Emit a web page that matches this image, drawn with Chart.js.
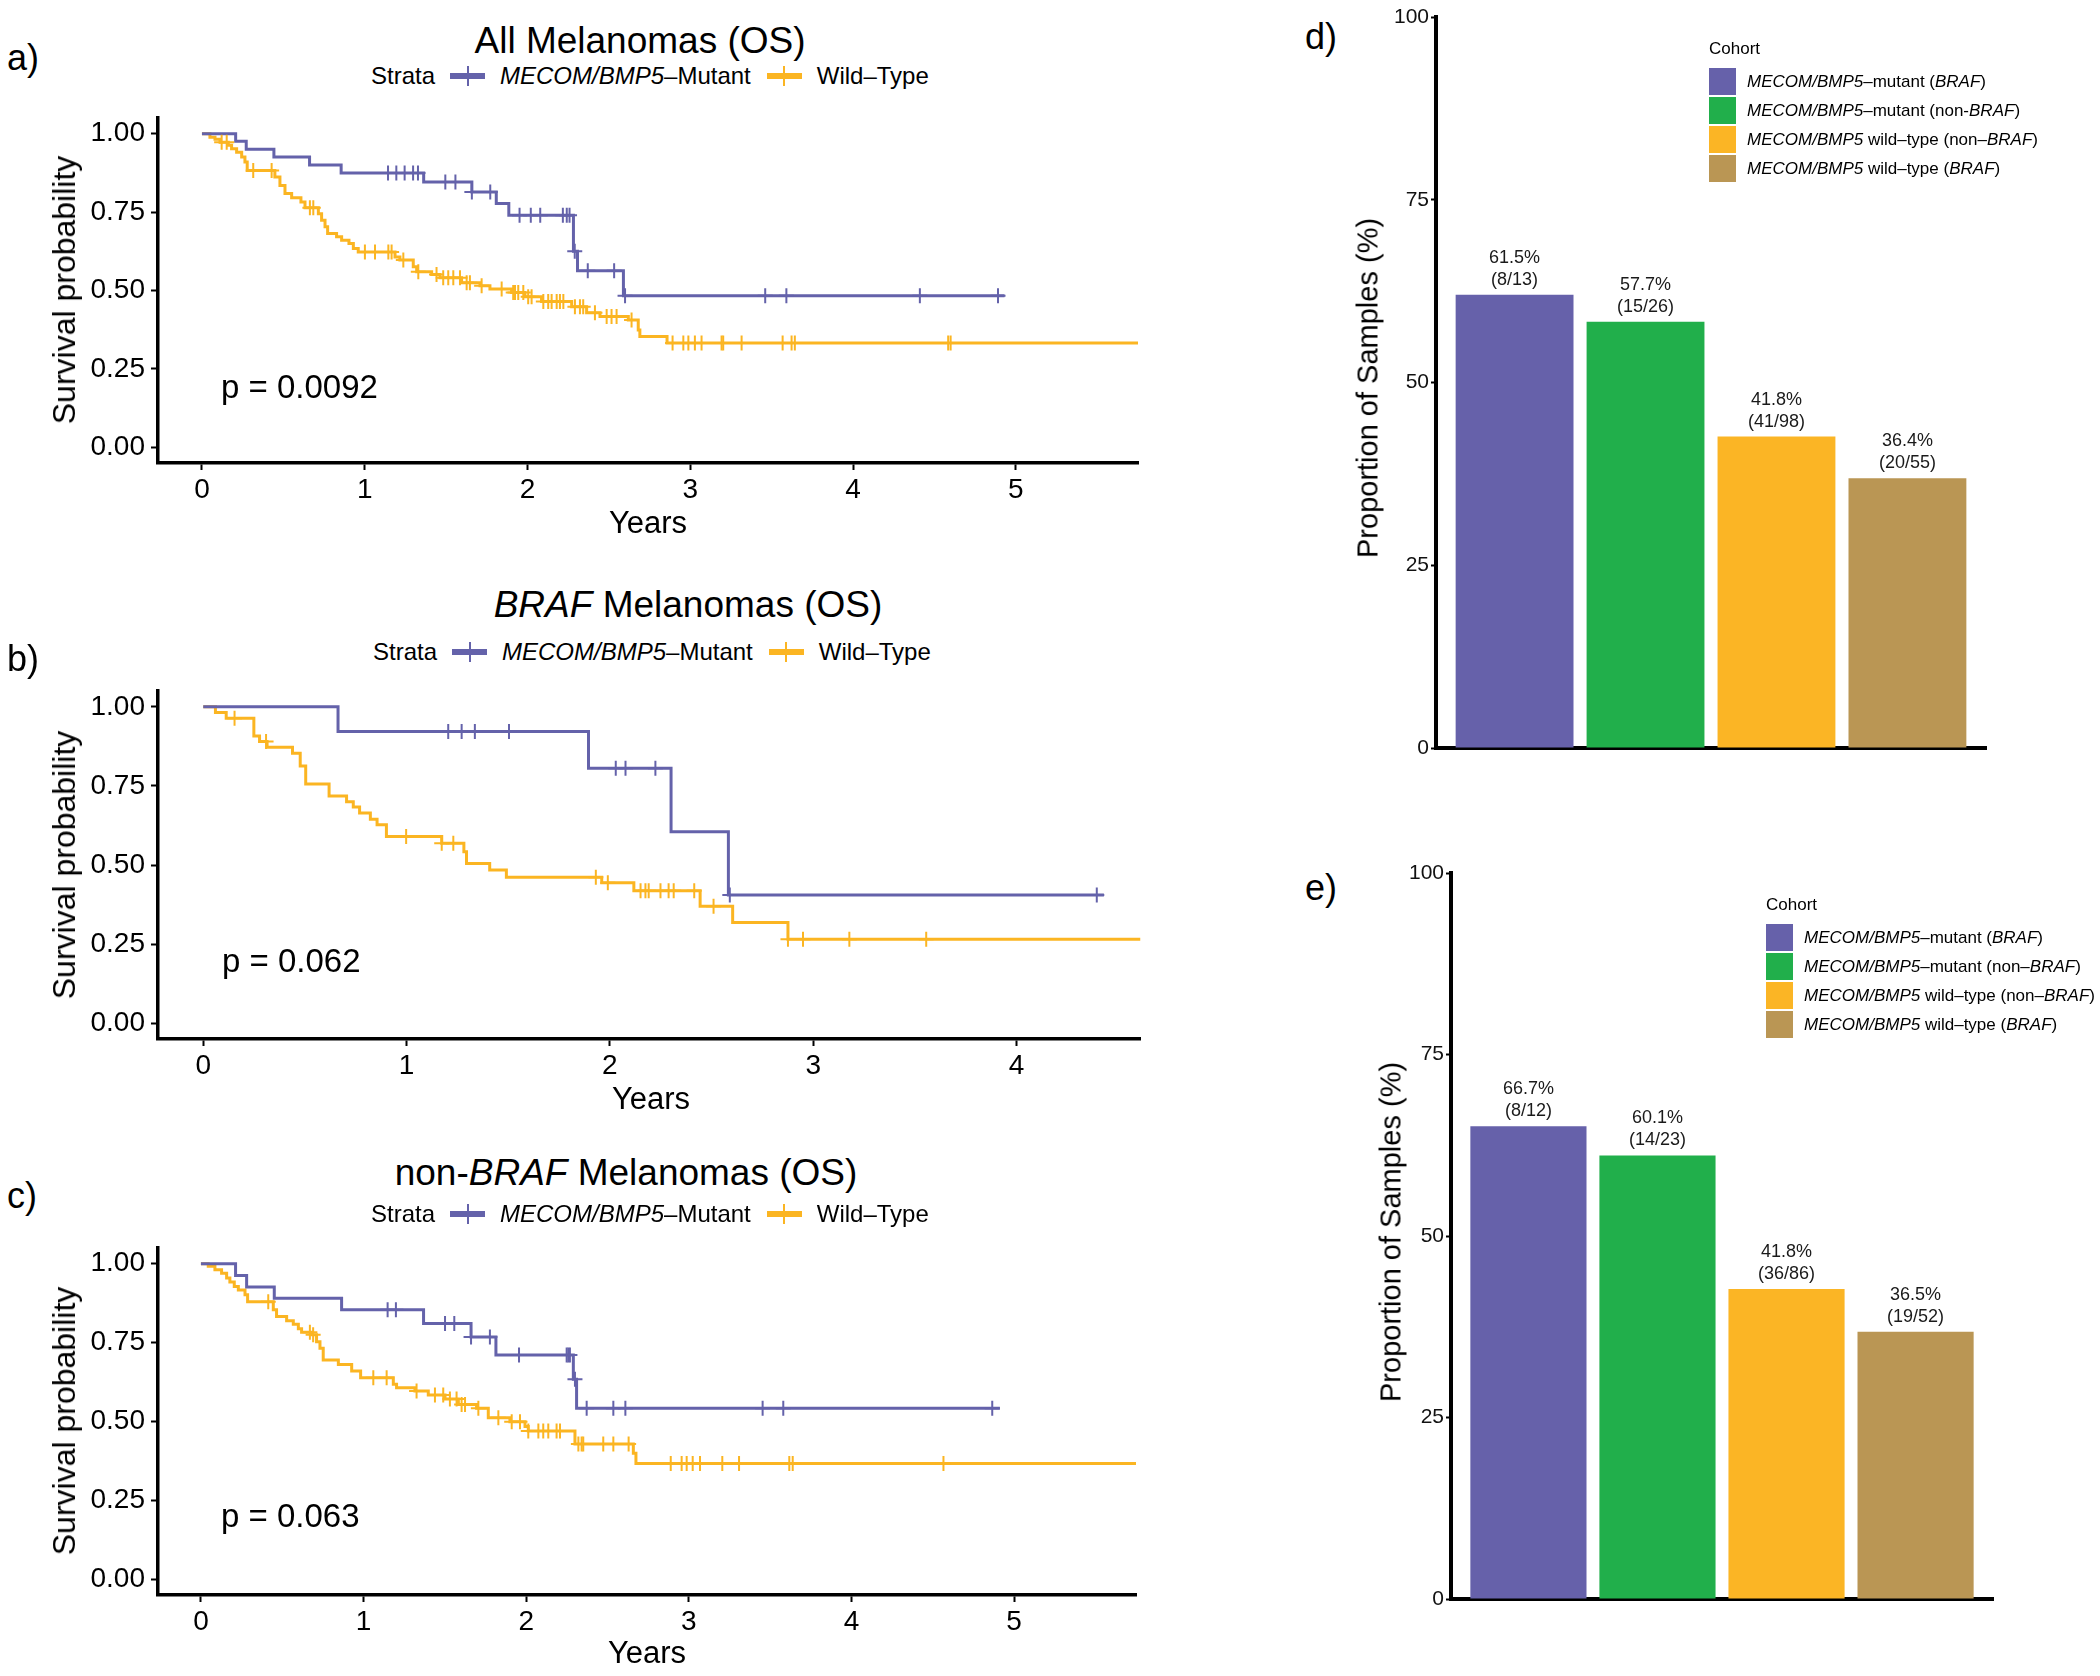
<!DOCTYPE html>
<html>
<head>
<meta charset="utf-8">
<script src="https://cdn.jsdelivr.net/npm/chart.js@4.4.1/dist/chart.umd.min.js"></script>
<style>
    body { margin: 0; width: 2100px; height: 1676px; background: #fff; position: relative; overflow: hidden;
           font-family: "Liberation Sans", Arial, sans-serif; color: #000; }
    canvas { position: absolute; }
    .t { position: absolute; white-space: nowrap; line-height: 1; }
    .c { transform: translate(-50%, -50%); }
    .l { transform: translateY(-50%); }
    .rot { transform: translate(-50%, -50%) rotate(-90deg); }
    .legend { position: absolute; display: flex; align-items: center; transform: translateY(-50%);
              font-size: 24px; line-height: 1; white-space: nowrap; }
    .key { position: relative; width: 35px; height: 20px; margin: 0 15px; }
    .key::before { content: ''; position: absolute; left: 0; right: 0; top: 7px; height: 6px; background: var(--c); }
    .key::after { content: ''; position: absolute; left: 16.5px; top: 0; width: 2px; height: 20px; background: var(--c); }
    .cohort { position: absolute; font-size: 17px; line-height: 1; white-space: nowrap; }
    .row { display: flex; align-items: center; height: 29px; }
    .sw { width: 27px; height: 27px; margin-right: 11px; }
</style>
</head>
<body>

<canvas id="kmA" width="1150" height="429" style="left:0;top:94px"></canvas>
<canvas id="kmB" width="1150" height="432" style="left:0;top:667px"></canvas>
<canvas id="kmC" width="1150" height="431" style="left:0;top:1224px"></canvas>
<canvas id="barD" width="620" height="780" style="left:1380px;top:0"></canvas>
<canvas id="barE" width="620" height="780" style="left:1395px;top:855px"></canvas>

<!-- panel a -->
<div class="t l" style="left:7px;top:58px;font-size:36px">a)</div>
<div class="t c" style="left:640px;top:40px;font-size:37px">All Melanomas (OS)</div>
<div class="legend" style="left:371px;top:76px">
    <span>Strata</span><span class="key" style="--c:#6462AA"></span><span><i>MECOM/BMP5</i>–Mutant</span><span class="key" style="--c:#FBB522;margin-left:16px"></span><span>Wild–Type</span>
</div>
<div class="t rot" style="left:64px;top:290px;font-size:32px">Survival probability</div>
<div class="t c" style="left:648px;top:522px;font-size:31px">Years</div>
<div class="t l" style="left:221px;top:386px;font-size:33px">p = 0.0092</div>

<!-- panel b -->
<div class="t l" style="left:7px;top:659px;font-size:36px">b)</div>
<div class="t c" style="left:688px;top:604px;font-size:37px"><i>BRAF</i> Melanomas (OS)</div>
<div class="legend" style="left:373px;top:652px">
    <span>Strata</span><span class="key" style="--c:#6462AA"></span><span><i>MECOM/BMP5</i>–Mutant</span><span class="key" style="--c:#FBB522;margin-left:16px"></span><span>Wild–Type</span>
</div>
<div class="t rot" style="left:64px;top:865px;font-size:32px">Survival probability</div>
<div class="t c" style="left:651px;top:1098px;font-size:31px">Years</div>
<div class="t l" style="left:222px;top:960px;font-size:33px">p = 0.062</div>

<!-- panel c -->
<div class="t l" style="left:7px;top:1196px;font-size:36px">c)</div>
<div class="t c" style="left:626px;top:1172px;font-size:37px">non-<i>BRAF</i> Melanomas (OS)</div>
<div class="legend" style="left:371px;top:1214px">
    <span>Strata</span><span class="key" style="--c:#6462AA"></span><span><i>MECOM/BMP5</i>–Mutant</span><span class="key" style="--c:#FBB522;margin-left:16px"></span><span>Wild–Type</span>
</div>
<div class="t rot" style="left:64px;top:1421px;font-size:32px">Survival probability</div>
<div class="t c" style="left:647px;top:1652px;font-size:31px">Years</div>
<div class="t l" style="left:221px;top:1515px;font-size:33px">p = 0.063</div>

<!-- panel d -->
<div class="t l" style="left:1305px;top:37px;font-size:36px">d)</div>
<div class="t rot" style="left:1368px;top:388px;font-size:29px">Proportion of Samples (%)</div>
<div class="cohort" style="left:1709px;top:40px">
    <div style="margin-bottom:10px">Cohort</div>
    <div class="row"><div class="sw" style="background:#6661AA"></div><span><i>MECOM/BMP5</i>–mutant (<i>BRAF</i>)</span></div>
    <div class="row"><div class="sw" style="background:#21AF4B"></div><span><i>MECOM/BMP5</i>–mutant (non-<i>BRAF</i>)</span></div>
    <div class="row"><div class="sw" style="background:#FBB525"></div><span><i>MECOM/BMP5</i> wild–type (non–<i>BRAF</i>)</span></div>
    <div class="row"><div class="sw" style="background:#BA9654"></div><span><i>MECOM/BMP5</i> wild–type (<i>BRAF</i>)</span></div>
</div>

<!-- panel e -->
<div class="t l" style="left:1305px;top:888px;font-size:36px">e)</div>
<div class="t rot" style="left:1391px;top:1232px;font-size:29px">Proportion of Samples (%)</div>
<div class="cohort" style="left:1766px;top:896px">
    <div style="margin-bottom:10px">Cohort</div>
    <div class="row"><div class="sw" style="background:#6661AA"></div><span><i>MECOM/BMP5</i>–mutant (<i>BRAF</i>)</span></div>
    <div class="row"><div class="sw" style="background:#21AF4B"></div><span><i>MECOM/BMP5</i>–mutant (non–<i>BRAF</i>)</span></div>
    <div class="row"><div class="sw" style="background:#FBB525"></div><span><i>MECOM/BMP5</i> wild–type (non–<i>BRAF</i>)</span></div>
    <div class="row"><div class="sw" style="background:#BA9654"></div><span><i>MECOM/BMP5</i> wild–type (<i>BRAF</i>)</span></div>
</div>

<script>
// --- a) All melanomas ---
const aMutTimes = [0, 0.207, 0.272, 0.442, 0.661, 0.855, 1.362, 1.658, 1.808, 1.885, 2.282, 2.307, 2.589]
const aMutSurv = [1, 0.976, 0.950, 0.926, 0.900, 0.875, 0.846, 0.814, 0.777, 0.740, 0.625, 0.563, 0.483]
const aMutEnd = 4.93
const aMutCensor = [1.143, 1.194, 1.245, 1.297, 1.327, 1.495, 1.557, 1.658, 1.771, 1.951, 2.020, 2.078,
    2.217, 2.241, 2.258, 2.29, 2.370, 2.532, 2.599, 3.46, 3.59, 4.41, 4.89]

const aWtTimes = [0, 0.049, 0.080, 0.111, 0.162, 0.182, 0.213, 0.244, 0.264, 0.278, 0.448, 0.479, 0.510,
    0.551, 0.608, 0.633, 0.715, 0.735, 0.756, 0.772, 0.827, 0.858, 0.903, 0.930, 0.960, 1.186, 1.216,
    1.298, 1.319, 1.411, 1.462, 1.595, 1.708, 1.769, 1.902, 1.984, 2.086, 2.271, 2.363, 2.445, 2.619,
    2.680, 2.690, 2.857]
const aWtSurv = [1, 0.989, 0.982, 0.973, 0.963, 0.952, 0.941, 0.926, 0.910, 0.883, 0.862, 0.835, 0.809,
    0.796, 0.782, 0.764, 0.745, 0.724, 0.703, 0.682, 0.671, 0.660, 0.650, 0.634, 0.623, 0.607, 0.597,
    0.576, 0.560, 0.551, 0.541, 0.525, 0.515, 0.505, 0.494, 0.480, 0.465, 0.448, 0.429, 0.417, 0.406,
    0.374, 0.353, 0.333]
const aWtEnd = 5.75
const aWtCensor = [0.121, 0.152, 0.315, 0.428, 0.663, 0.684, 1.001, 1.063, 1.145, 1.165, 1.237, 1.329,
    1.441, 1.482, 1.513, 1.544, 1.585, 1.626, 1.646, 1.718, 1.841, 1.912, 1.923, 1.943, 1.974, 2.004,
    2.025, 2.097, 2.127, 2.148, 2.179, 2.199, 2.220, 2.291, 2.322, 2.342, 2.414, 2.486, 2.516, 2.547,
    2.639, 2.891, 2.957, 2.988, 3.028, 3.069, 3.192, 3.202, 3.315, 3.567, 3.622, 3.642, 4.584, 4.599]

// --- b) BRAF melanomas ---
const bMutTimes = [0, 0.663, 1.895, 2.301, 2.583]
const bMutSurv = [1, 0.922, 0.806, 0.605, 0.405]
const bMutEnd = 4.43
const bMutCensor = [1.205, 1.271, 1.336, 1.504, 2.029, 2.077, 2.224, 2.59, 4.395]

const bWtTimes = [0, 0.060, 0.113, 0.249, 0.277, 0.314, 0.439, 0.477, 0.504, 0.619, 0.705, 0.738, 0.769,
    0.822, 0.855, 0.901, 1.173, 1.282, 1.295, 1.409, 1.491, 1.96, 2.118, 2.444, 2.604, 2.876]
const bWtSurv = [1, 0.982, 0.964, 0.908, 0.890, 0.872, 0.853, 0.813, 0.756, 0.718, 0.700, 0.683, 0.664,
    0.645, 0.627, 0.590, 0.569, 0.542, 0.505, 0.484, 0.461, 0.444, 0.419, 0.370, 0.318, 0.265]
const bWtEnd = 4.61
const bWtCensor = [0.154, 0.309, 0.998, 1.173, 1.230, 1.931, 1.99, 2.151, 2.175, 2.191, 2.249, 2.289,
    2.314, 2.415, 2.510, 2.876, 2.950, 3.178, 3.556]

// --- c) non-BRAF melanomas ---
const cMutTimes = [0, 0.213, 0.281, 0.451, 0.865, 1.369, 1.661, 1.814, 2.290, 2.310]
const cMutSurv = [1, 0.963, 0.926, 0.891, 0.854, 0.811, 0.768, 0.711, 0.634, 0.542]
const cMutEnd = 4.913
const cMutCensor = [1.148, 1.199, 1.501, 1.558, 1.661, 1.777, 1.956, 2.249, 2.259, 2.269, 2.30, 2.372,
    2.536, 2.61, 3.454, 3.581, 4.866]

const cWtTimes = [0, 0.045, 0.086, 0.127, 0.158, 0.178, 0.205, 0.230, 0.271, 0.287, 0.445, 0.465, 0.527,
    0.568, 0.599, 0.619, 0.681, 0.711, 0.732, 0.752, 0.845, 0.927, 0.982, 1.183, 1.203, 1.316, 1.398,
    1.501, 1.583, 1.695, 1.767, 1.900, 1.993, 2.013, 2.300, 2.659, 2.675]
const cWtSurv = [1, 0.992, 0.981, 0.970, 0.955, 0.942, 0.928, 0.917, 0.902, 0.880, 0.854, 0.833, 0.819,
    0.808, 0.794, 0.783, 0.775, 0.753, 0.732, 0.695, 0.681, 0.660, 0.639, 0.618, 0.607, 0.597, 0.584,
    0.571, 0.554, 0.542, 0.512, 0.499, 0.484, 0.470, 0.429, 0.399, 0.367]
const cWtEnd = 5.75
const cWtCensor = [0.414, 0.670, 0.690, 1.060, 1.142, 1.326, 1.439, 1.490, 1.531, 1.572, 1.603, 1.624,
    1.706, 1.829, 1.911, 1.962, 2.013, 2.075, 2.105, 2.136, 2.187, 2.208, 2.321, 2.341, 2.351, 2.474,
    2.536, 2.630, 2.889, 2.956, 2.987, 3.024, 3.069, 3.206, 3.309, 3.618, 3.639, 4.566]

// tick labels
const kmYTicks = [0, 0.25, 0.5, 0.75, 1]
const yearsTo5 = [0, 1, 2, 3, 4, 5]
const yearsTo4 = [0, 1, 2, 3, 4]
const barYTicks = [0, 25, 50, 75, 100]

// --- d) and e) bar charts ---
const cohorts = ['MECOM/BMP5-mutant (BRAF)', 'MECOM/BMP5-mutant (non-BRAF)',
    'MECOM/BMP5 wild-type (non-BRAF)', 'MECOM/BMP5 wild-type (BRAF)']
const cohortColors = ['#6661AA', '#21AF4B', '#FBB525', '#BA9654']
const dValues = [62.0, 58.3, 42.6, 36.9]
const dPercent = ['61.5%', '57.7%', '41.8%', '36.4%']
const dCounts = ['(8/13)', '(15/26)', '(41/98)', '(20/55)']
const eValues = [65.1, 61.1, 42.7, 36.8]
const ePercent = ['66.7%', '60.1%', '41.8%', '36.5%']
const eCounts = ['(8/12)', '(14/23)', '(36/86)', '(19/52)']

const purple = '#6462AA'
const orange = '#FBB522'

Chart.defaults.font.family = '"Liberation Sans", Arial, sans-serif'
Chart.defaults.color = '#000'

// survival value at time t (step function)
function survAt(times, surv, t) {
    let s = surv[0]
    times.forEach((time, i) => {
        if (time <= t) s = surv[i]
    })
    return s
}

function curveDatasets(times, surv, end, censor, color) {
    const line = times.map((t, i) => ({ x: t, y: surv[i] }))
    line.push({ x: end, y: surv[surv.length - 1] })
    const marks = censor.map((t) => ({ x: t, y: survAt(times, surv, t) }))
    return [
        { data: line, borderColor: color, borderWidth: 3, stepped: true, pointRadius: 0, fill: false, order: 2 },
        { data: marks, showLine: false, pointStyle: 'cross', pointRadius: 7.5, pointBorderWidth: 2,
          pointBorderColor: color, borderColor: color, order: 1 }
    ]
}

// Kaplan-Meier panel
function createKmChart(id, curves, xTicks, xMin, xMax, padRight) {
    new Chart(document.getElementById(id), {
        type: 'line',
        data: { datasets: curves },
        options: {
            responsive: false,
            animation: false,
            layout: { padding: { top: 24, right: padRight, left: 0, bottom: 0 } },
            plugins: { legend: { display: false }, tooltip: { enabled: false } },
            scales: {
                x: {
                    type: 'linear', min: xMin, max: xMax,
                    afterFit: (s) => { s.height = 60 },
                    afterBuildTicks: (s) => { s.ticks = xTicks.map((v) => ({ value: v })) },
                    grid: { drawOnChartArea: false, tickLength: 7, tickWidth: 2, color: '#000' },
                    border: { color: '#000', width: 3.5 },
                    ticks: { font: { size: 28 }, color: '#000', padding: 3 }
                },
                y: {
                    min: -0.05, max: 1.05,
                    afterFit: (s) => { s.width = 158 },
                    afterBuildTicks: (s) => { s.ticks = kmYTicks.map((v) => ({ value: v })) },
                    grid: { drawOnChartArea: false, tickLength: 7, tickWidth: 2, color: '#000' },
                    border: { color: '#000', width: 3.5 },
                    ticks: { font: { size: 28 }, color: '#000', padding: 6, callback: (v) => v.toFixed(2) }
                }
            }
        }
    })
}

// labels above the bars
function barLabels(percent, counts) {
    return {
        id: 'barLabels',
        afterDatasetsDraw(chart) {
            const ctx = chart.ctx
            chart.getDatasetMeta(0).data.forEach((bar, i) => {
                ctx.save()
                ctx.font = '18px "Liberation Sans", Arial, sans-serif'
                ctx.fillStyle = '#1a1a1a'
                ctx.textAlign = 'center'
                ctx.textBaseline = 'middle'
                ctx.fillText(percent[i], bar.x, bar.y - 37)
                ctx.fillText(counts[i], bar.x, bar.y - 15)
                ctx.restore()
            })
        }
    }
}

function createBarChart(id, values, percent, counts, padTop, padRight, xHeight) {
    new Chart(document.getElementById(id), {
        type: 'bar',
        data: {
            datasets: [{
                data: values.map((v, i) => ({ x: i + 1, y: v })),
                backgroundColor: cohortColors,
                barPercentage: 0.9,
                categoryPercentage: 1
            }]
        },
        options: {
            responsive: false,
            animation: false,
            layout: { padding: { top: padTop, right: padRight, left: 0, bottom: 0 } },
            plugins: { legend: { display: false }, tooltip: { enabled: false } },
            scales: {
                x: {
                    type: 'linear', min: 0.4, max: 4.6, offset: false,
                    afterFit: (s) => { s.height = xHeight },
                    afterBuildTicks: (s) => { s.ticks = cohorts.map((c, i) => ({ value: i + 1 })) },
                    grid: { display: false },
                    border: { color: '#000', width: 4 },
                    ticks: { display: false }
                },
                y: {
                    min: 0, max: 100,
                    afterFit: (s) => { s.width = 56 },
                    afterBuildTicks: (s) => { s.ticks = barYTicks.map((v) => ({ value: v })) },
                    grid: { drawOnChartArea: false, tickLength: 5, tickWidth: 2, color: '#000' },
                    border: { color: '#000', width: 4 },
                    ticks: { font: { size: 21 }, color: '#111', padding: 2 }
                }
            }
        },
        plugins: [barLabels(percent, counts)]
    })
}

createKmChart('kmA', [
    ...curveDatasets(aMutTimes, aMutSurv, aMutEnd, aMutCensor, purple),
    ...curveDatasets(aWtTimes, aWtSurv, aWtEnd, aWtCensor, orange)
], yearsTo5, -0.27, 5.75, 12)

createKmChart('kmB', [
    ...curveDatasets(bMutTimes, bMutSurv, bMutEnd, bMutCensor, purple),
    ...curveDatasets(bWtTimes, bWtSurv, bWtEnd, bWtCensor, orange)
], yearsTo4, -0.2225, 4.61, 5)

createKmChart('kmC', [
    ...curveDatasets(cMutTimes, cMutSurv, cMutEnd, cMutCensor, purple),
    ...curveDatasets(cWtTimes, cWtSurv, cWtEnd, cWtCensor, orange)
], yearsTo5, -0.264, 5.75, 14)

createBarChart('barD', dValues, dPercent, dCounts, 17, 14, 32)
createBarChart('barE', eValues, ePercent, eCounts, 18, 22, 36)
</script>
</body>
</html>
